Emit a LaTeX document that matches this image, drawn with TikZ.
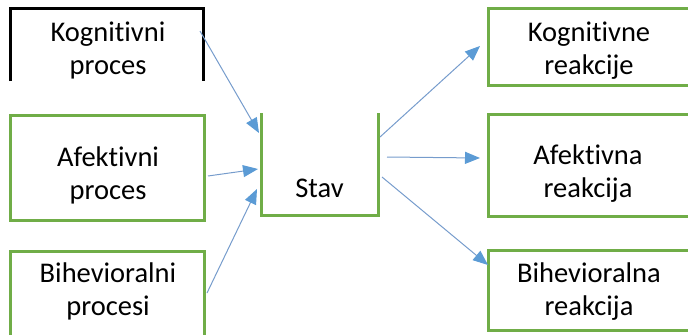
\documentclass[tikz,border=0pt]{standalone}
\usepackage{fontspec}
\setmainfont[Ligatures={NoCommon,NoContextual}]{Carlito}
\usetikzlibrary{arrows.meta}
\definecolor{boxgreen}{HTML}{70AD47}
\definecolor{arrowblue}{HTML}{5B9BD5}
\definecolor{linkblue}{RGB}{118,156,204}
\begin{document}
\begin{tikzpicture}[x=1pt,y=-1pt,
  label/.style={align=center,inner sep=0pt,font=\fontsize{28.5}{33}\selectfont},
  gborder/.style={draw=boxgreen,line width=3pt},
  kborder/.style={draw=black,line width=3pt},
  link/.style={draw=linkblue,line width=1pt,-{Triangle[length=15pt,width=12pt,color=arrowblue]}}]
\useasboundingbox (0,0) rectangle (688,335);
% box outlines
\draw[kborder] (10.5,81) -- (10.5,8) -- (203.5,8) -- (203.5,81);
\draw[gborder] (10.5,115) rectangle (204,220.5);
\draw[gborder] (10.5,335) -- (10.5,251.5) -- (204,251.5) -- (204,335);
\draw[gborder] (261.5,113) -- (261.5,215.5) -- (378,215.5) -- (378,113);
\draw[gborder] (688,8.7) -- (488.5,8.7) -- (488.5,85.3) -- (688,85.3);
\draw[gborder] (688,114.5) -- (488.5,114.5) -- (488.5,216) -- (688,216);
\draw[gborder] (688,250) -- (488.5,250) -- (488.5,330.5) -- (688,330.5);
% texts
\node[label] (kp) at (108,50) {Kognitivni\\proces};
\node[label] (ap) at (108,175) {Afektivni\\proces};
\node[label] (bp) at (108,291.5) {Bihevioralni\\procesi};
\node[label] (stav) at (319.5,188.5) {Stav};
\node[label] (kr) at (589,51) {Kognitivne\\reakcije};
\node[label] (ar) at (588,173.5) {Afektivna\\reakcija};
\node[label] (br) at (589,291.5) {Bihevioralna\\reakcija};
% connector ends
\coordinate (kpout) at (200,31);
\coordinate (apout) at (208,176);
\coordinate (bpout) at (207,293);
\coordinate (stin1) at (259,133);
\coordinate (stin2) at (258,169);
\coordinate (stin3) at (257,189);
\coordinate (stout1) at (380,137);
\coordinate (stout2) at (387,157);
\coordinate (stout3) at (382,177);
\coordinate (krin) at (480,46);
\coordinate (arin) at (480,158);
\coordinate (brin) at (488,265);
% connectors
\draw[link] (kpout) -- (stin1);
\draw[link] (apout) -- (stin2);
\draw[link] (bpout) -- (stin3);
\draw[link] (stout1) -- (krin);
\draw[link] (stout2) -- (arin);
\draw[link] (stout3) -- (brin);
\end{tikzpicture}
\end{document}
